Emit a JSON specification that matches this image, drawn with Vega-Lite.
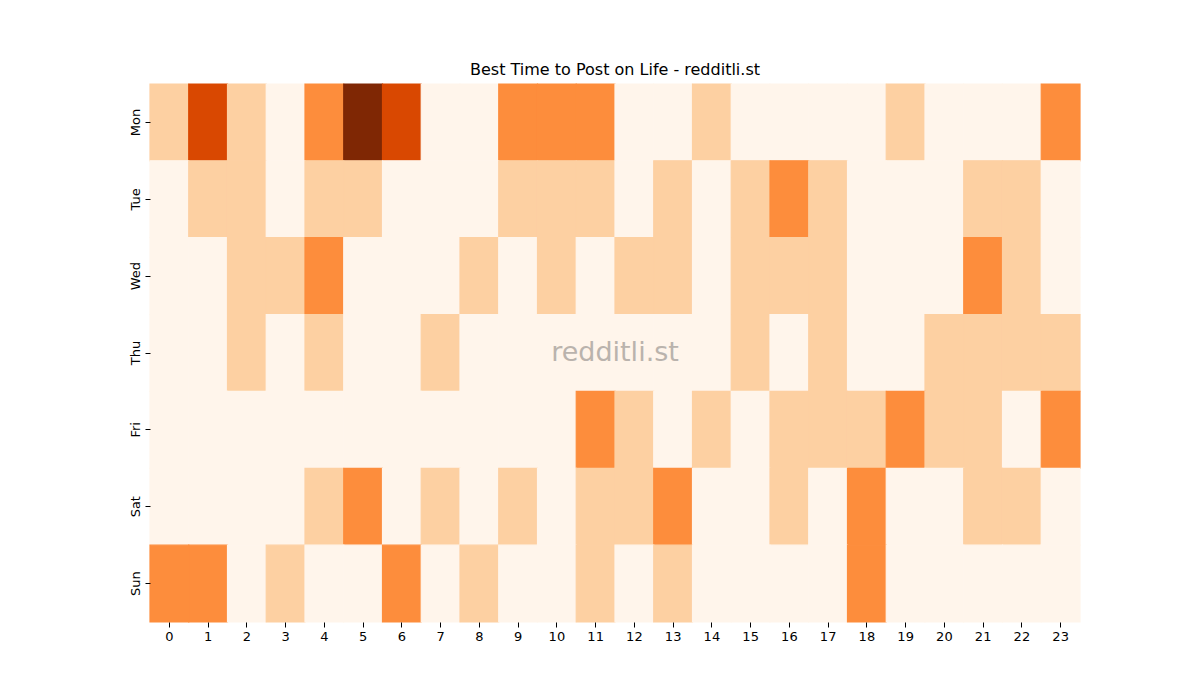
{
  "$schema": "https://vega.github.io/schema/vega-lite/v6.json",
  "width": 930,
  "height": 538,
  "autosize": {"type": "none"},
  "padding": {"left": 150, "top": 84, "right": 120, "bottom": 78},
  "background": "white",
  "config": {"view": {"stroke": null}, "font": "DejaVu Sans"},
  "title": {"text": "Best Time to Post on Life - redditli.st", "fontSize": 16, "fontWeight": "normal", "font": "DejaVu Sans", "color": "black", "offset": 5},
  "encoding": {
    "x": {"field": "h", "type": "ordinal", "title": null,
      "scale": {"paddingInner": 0, "paddingOuter": 0},
      "axis": {"labelAngle": 0, "domain": false, "tickSize": 5, "tickColor": "black", "labelColor": "black", "labelFontSize": 13, "labelPadding": 3, "grid": false}},
    "y": {"field": "d", "type": "ordinal", "title": null,
      "sort": ["Mon","Tue","Wed","Thu","Fri","Sat","Sun"],
      "scale": {"paddingInner": 0, "paddingOuter": 0},
      "axis": {"labelAngle": -90, "labelAlign": "center", "labelBaseline": "bottom", "domain": false, "tickSize": 5, "tickColor": "black", "labelColor": "black", "labelFontSize": 13, "labelPadding": 3, "grid": false}}
  },
  "layer": [
    {"data": {"values": [
{"d":"Mon","h":0,"v":1},{"d":"Mon","h":1,"v":3},{"d":"Mon","h":2,"v":1},{"d":"Mon","h":3,"v":0},{"d":"Mon","h":4,"v":2},{"d":"Mon","h":5,"v":4},{"d":"Mon","h":6,"v":3},{"d":"Mon","h":7,"v":0},{"d":"Mon","h":8,"v":0},{"d":"Mon","h":9,"v":2},{"d":"Mon","h":10,"v":2},{"d":"Mon","h":11,"v":2},{"d":"Mon","h":12,"v":0},{"d":"Mon","h":13,"v":0},{"d":"Mon","h":14,"v":1},{"d":"Mon","h":15,"v":0},{"d":"Mon","h":16,"v":0},{"d":"Mon","h":17,"v":0},{"d":"Mon","h":18,"v":0},{"d":"Mon","h":19,"v":1},{"d":"Mon","h":20,"v":0},{"d":"Mon","h":21,"v":0},{"d":"Mon","h":22,"v":0},{"d":"Mon","h":23,"v":2},
{"d":"Tue","h":0,"v":0},{"d":"Tue","h":1,"v":1},{"d":"Tue","h":2,"v":1},{"d":"Tue","h":3,"v":0},{"d":"Tue","h":4,"v":1},{"d":"Tue","h":5,"v":1},{"d":"Tue","h":6,"v":0},{"d":"Tue","h":7,"v":0},{"d":"Tue","h":8,"v":0},{"d":"Tue","h":9,"v":1},{"d":"Tue","h":10,"v":1},{"d":"Tue","h":11,"v":1},{"d":"Tue","h":12,"v":0},{"d":"Tue","h":13,"v":1},{"d":"Tue","h":14,"v":0},{"d":"Tue","h":15,"v":1},{"d":"Tue","h":16,"v":2},{"d":"Tue","h":17,"v":1},{"d":"Tue","h":18,"v":0},{"d":"Tue","h":19,"v":0},{"d":"Tue","h":20,"v":0},{"d":"Tue","h":21,"v":1},{"d":"Tue","h":22,"v":1},{"d":"Tue","h":23,"v":0},
{"d":"Wed","h":0,"v":0},{"d":"Wed","h":1,"v":0},{"d":"Wed","h":2,"v":1},{"d":"Wed","h":3,"v":1},{"d":"Wed","h":4,"v":2},{"d":"Wed","h":5,"v":0},{"d":"Wed","h":6,"v":0},{"d":"Wed","h":7,"v":0},{"d":"Wed","h":8,"v":1},{"d":"Wed","h":9,"v":0},{"d":"Wed","h":10,"v":1},{"d":"Wed","h":11,"v":0},{"d":"Wed","h":12,"v":1},{"d":"Wed","h":13,"v":1},{"d":"Wed","h":14,"v":0},{"d":"Wed","h":15,"v":1},{"d":"Wed","h":16,"v":1},{"d":"Wed","h":17,"v":1},{"d":"Wed","h":18,"v":0},{"d":"Wed","h":19,"v":0},{"d":"Wed","h":20,"v":0},{"d":"Wed","h":21,"v":2},{"d":"Wed","h":22,"v":1},{"d":"Wed","h":23,"v":0},
{"d":"Thu","h":0,"v":0},{"d":"Thu","h":1,"v":0},{"d":"Thu","h":2,"v":1},{"d":"Thu","h":3,"v":0},{"d":"Thu","h":4,"v":1},{"d":"Thu","h":5,"v":0},{"d":"Thu","h":6,"v":0},{"d":"Thu","h":7,"v":1},{"d":"Thu","h":8,"v":0},{"d":"Thu","h":9,"v":0},{"d":"Thu","h":10,"v":0},{"d":"Thu","h":11,"v":0},{"d":"Thu","h":12,"v":0},{"d":"Thu","h":13,"v":0},{"d":"Thu","h":14,"v":0},{"d":"Thu","h":15,"v":1},{"d":"Thu","h":16,"v":0},{"d":"Thu","h":17,"v":1},{"d":"Thu","h":18,"v":0},{"d":"Thu","h":19,"v":0},{"d":"Thu","h":20,"v":1},{"d":"Thu","h":21,"v":1},{"d":"Thu","h":22,"v":1},{"d":"Thu","h":23,"v":1},
{"d":"Fri","h":0,"v":0},{"d":"Fri","h":1,"v":0},{"d":"Fri","h":2,"v":0},{"d":"Fri","h":3,"v":0},{"d":"Fri","h":4,"v":0},{"d":"Fri","h":5,"v":0},{"d":"Fri","h":6,"v":0},{"d":"Fri","h":7,"v":0},{"d":"Fri","h":8,"v":0},{"d":"Fri","h":9,"v":0},{"d":"Fri","h":10,"v":0},{"d":"Fri","h":11,"v":2},{"d":"Fri","h":12,"v":1},{"d":"Fri","h":13,"v":0},{"d":"Fri","h":14,"v":1},{"d":"Fri","h":15,"v":0},{"d":"Fri","h":16,"v":1},{"d":"Fri","h":17,"v":1},{"d":"Fri","h":18,"v":1},{"d":"Fri","h":19,"v":2},{"d":"Fri","h":20,"v":1},{"d":"Fri","h":21,"v":1},{"d":"Fri","h":22,"v":0},{"d":"Fri","h":23,"v":2},
{"d":"Sat","h":0,"v":0},{"d":"Sat","h":1,"v":0},{"d":"Sat","h":2,"v":0},{"d":"Sat","h":3,"v":0},{"d":"Sat","h":4,"v":1},{"d":"Sat","h":5,"v":2},{"d":"Sat","h":6,"v":0},{"d":"Sat","h":7,"v":1},{"d":"Sat","h":8,"v":0},{"d":"Sat","h":9,"v":1},{"d":"Sat","h":10,"v":0},{"d":"Sat","h":11,"v":1},{"d":"Sat","h":12,"v":1},{"d":"Sat","h":13,"v":2},{"d":"Sat","h":14,"v":0},{"d":"Sat","h":15,"v":0},{"d":"Sat","h":16,"v":1},{"d":"Sat","h":17,"v":0},{"d":"Sat","h":18,"v":2},{"d":"Sat","h":19,"v":0},{"d":"Sat","h":20,"v":0},{"d":"Sat","h":21,"v":1},{"d":"Sat","h":22,"v":1},{"d":"Sat","h":23,"v":0},
{"d":"Sun","h":0,"v":2},{"d":"Sun","h":1,"v":2},{"d":"Sun","h":2,"v":0},{"d":"Sun","h":3,"v":1},{"d":"Sun","h":4,"v":0},{"d":"Sun","h":5,"v":0},{"d":"Sun","h":6,"v":2},{"d":"Sun","h":7,"v":0},{"d":"Sun","h":8,"v":1},{"d":"Sun","h":9,"v":0},{"d":"Sun","h":10,"v":0},{"d":"Sun","h":11,"v":1},{"d":"Sun","h":12,"v":0},{"d":"Sun","h":13,"v":1},{"d":"Sun","h":14,"v":0},{"d":"Sun","h":15,"v":0},{"d":"Sun","h":16,"v":0},{"d":"Sun","h":17,"v":0},{"d":"Sun","h":18,"v":2},{"d":"Sun","h":19,"v":0},{"d":"Sun","h":20,"v":0},{"d":"Sun","h":21,"v":0},{"d":"Sun","h":22,"v":0},{"d":"Sun","h":23,"v":0}
     ]},
     "mark": {"type": "rect", "strokeWidth": 1.2, "opacity": 1, "fillOpacity": 1, "strokeOpacity": 1},
     "encoding": {
       "color": {"field": "v", "type": "quantitative", "legend": null,
        "scale": {"domain": [0,1,2,3,4], "range": ["#fff5eb","#fdd0a2","#fd8d3c","#d94801","#7f2704"]}},
       "stroke": {"field": "v", "type": "quantitative", "legend": null,
        "scale": {"domain": [0,1,2,3,4], "range": ["#fff5eb","#fdd0a2","#fd8d3c","#d94801","#7f2704"]}}
     }},
    {"data": {"values": [{"label": "redditli.st"}]},
     "mark": {"type": "text", "fontSize": 27, "font": "DejaVu Sans", "fill": "#bab3ad", "align": "center", "baseline": "middle"},
     "encoding": {"text": {"field": "label"}, "x": {"datum": 11, "type": "ordinal", "bandPosition": 1}, "y": {"datum": "Thu", "type": "ordinal"}}}
  ]
}
